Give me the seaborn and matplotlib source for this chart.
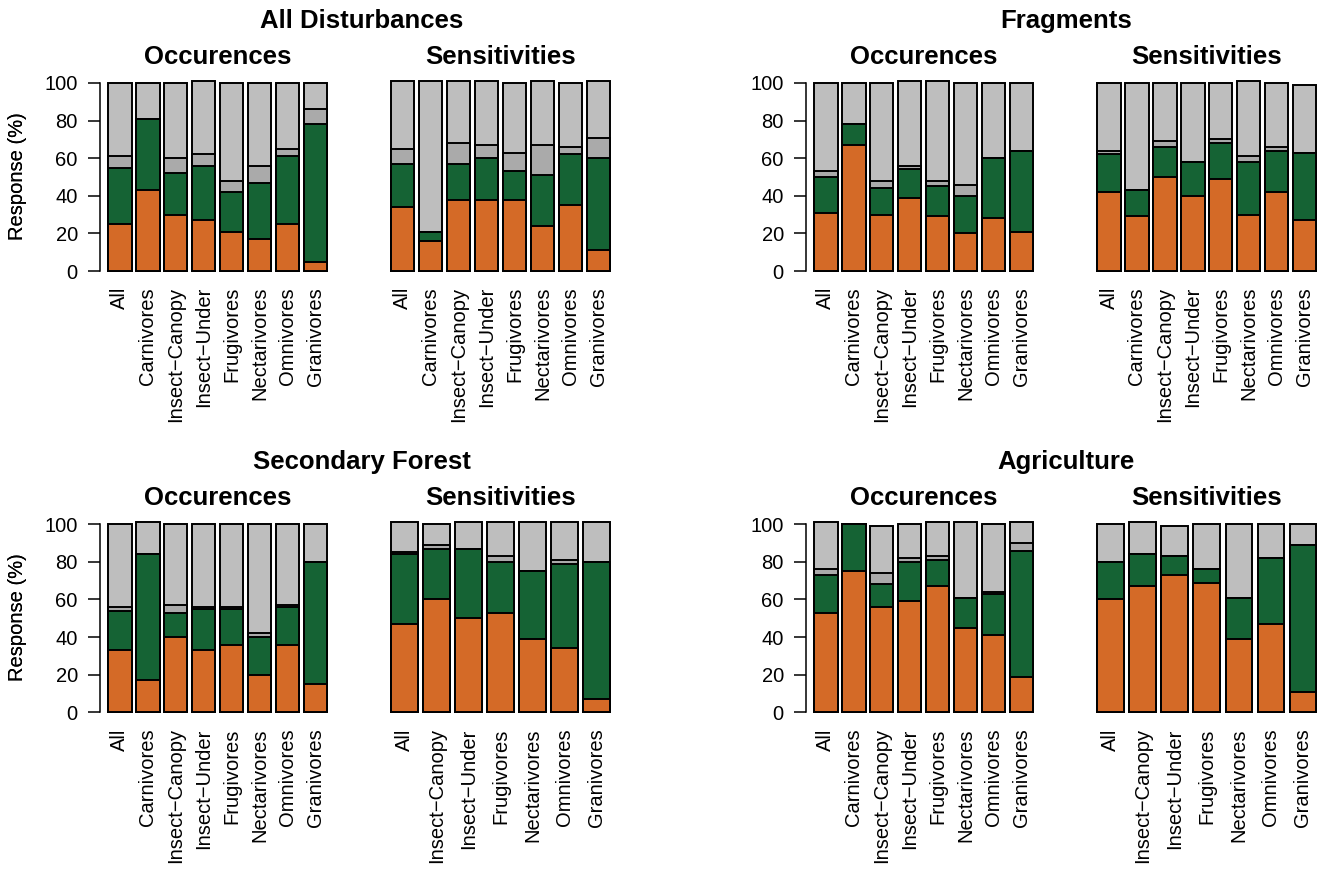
import pandas as pd
import matplotlib.pyplot as plt
import seaborn as sns

# bar categories (R draws the hyphen as a minus sign)
groups_all = ['All', 'Carnivores', 'Insect\u2212Canopy', 'Insect\u2212Under',
              'Frugivores', 'Nectarivores', 'Omnivores', 'Granivores']
groups_no_carn = ['All', 'Insect\u2212Canopy', 'Insect\u2212Under',
                  'Frugivores', 'Nectarivores', 'Omnivores', 'Granivores']

# segment heights (%) bottom -> top: orange, green, dark grey, light grey
dist_occ_orange = [25, 43, 30, 27, 21, 17, 25, 5]
dist_occ_green = [30, 38, 22, 29, 21, 30, 36, 73]
dist_occ_dgrey = [6, 0, 8, 6, 6, 9, 4, 8]
dist_occ_lgrey = [39, 19, 40, 39, 52, 44, 35, 14]

dist_sens_orange = [34, 16, 38, 38, 38, 24, 35, 11]
dist_sens_green = [23, 5, 19, 22, 15, 27, 27, 49]
dist_sens_dgrey = [8, 0, 11, 7, 10, 16, 4, 11]
dist_sens_lgrey = [36, 80, 33, 34, 37, 34, 34, 30]

frag_occ_orange = [31, 67, 30, 39, 29, 20, 28, 21]
frag_occ_green = [19, 11, 14, 15, 16, 20, 32, 43]
frag_occ_dgrey = [3, 0, 4, 2, 3, 6, 0, 0]
frag_occ_lgrey = [47, 22, 52, 45, 53, 54, 40, 36]

frag_sens_orange = [42, 29, 50, 40, 49, 30, 42, 27]
frag_sens_green = [20, 14, 16, 18, 19, 28, 22, 36]
frag_sens_dgrey = [2, 0, 3, 0, 2, 3, 2, 0]
frag_sens_lgrey = [36, 57, 31, 42, 30, 40, 34, 36]

sec_occ_orange = [33, 17, 40, 33, 36, 20, 36, 15]
sec_occ_green = [21, 67, 13, 22, 19, 20, 20, 65]
sec_occ_dgrey = [2, 0, 4, 1, 1, 2, 1, 0]
sec_occ_lgrey = [44, 17, 43, 44, 44, 58, 43, 20]

sec_sens_orange = [47, 60, 50, 53, 39, 34, 7]
sec_sens_green = [37, 27, 37, 27, 36, 45, 73]
sec_sens_dgrey = [1, 2, 0, 3, 0, 2, 0]
sec_sens_lgrey = [16, 11, 14, 18, 26, 20, 21]

agri_occ_orange = [53, 75, 56, 59, 67, 45, 41, 19]
agri_occ_green = [20, 25, 12, 21, 14, 16, 22, 67]
agri_occ_dgrey = [3, 0, 6, 2, 2, 0, 1, 4]
agri_occ_lgrey = [25, 0, 25, 18, 18, 40, 36, 11]

agri_sens_orange = [60, 67, 73, 69, 39, 47, 11]
agri_sens_green = [20, 17, 10, 7, 22, 35, 78]
agri_sens_dgrey = [0, 0, 0, 0, 0, 0, 0]
agri_sens_lgrey = [20, 17, 16, 24, 39, 18, 11]

colors = ['#D46A27', '#156334', '#AAAAAA', '#BEBEBE']

sns.set_theme(style="white")
plt.rcParams['font.family'] = ['Liberation Sans', 'DejaVu Sans']
plt.rcParams['text.color'] = 'black'

W, H = 1324, 871
fig = plt.figure(figsize=(W / 100, H / 100), dpi=100)

BAR_W = 1 / 1.2


def draw_stack(ax, cats, layers, occ):
    n = len(cats)
    tops = []
    cum = pd.Series([0] * n)
    for vals in layers:
        cum = cum + pd.Series(vals)
        tops.append(list(cum))
    df = pd.DataFrame({'group': cats})
    # tallest first, each lower cumulative bar drawn on top
    for top, col in reversed(list(zip(tops, colors))):
        df['top'] = top
        sns.barplot(data=df, x='group', y='top', order=cats, color=col,
                    saturation=1, width=BAR_W, edgecolor='black',
                    linewidth=1.4, errorbar=None, ax=ax)
    r = n - 1 + BAR_W
    ax.set_xlim(-BAR_W / 2 - 0.04 * r, n - 1 + BAR_W / 2 + 0.04 * r)
    ax.set_ylim(-4.04, 105.04)
    ax.set_xlabel('')
    ax.set_ylabel('')
    ax.set_xticks(range(n))
    ax.set_xticklabels(cats, rotation=90, va='top')
    ax.tick_params(axis='x', length=0, pad=6, labelsize=14.5, colors='black')
    for s in ['top', 'right', 'bottom']:
        ax.spines[s].set_visible(False)
    if occ:
        ax.spines['left'].set_bounds(0, 100)
        ax.spines['left'].set_color('black')
        ax.spines['left'].set_linewidth(1.1)
        ax.set_yticks([0, 20, 40, 60, 80, 100])
        ax.tick_params(axis='y', left=True, length=8.6, width=1.1, pad=7,
                       labelsize=14.5, colors='black')
    else:
        ax.spines['left'].set_visible(False)
        ax.set_yticks([])


panels = [
    ('All Disturbances', 0, 0,
     groups_all, [dist_occ_orange, dist_occ_green, dist_occ_dgrey, dist_occ_lgrey],
     groups_all, [dist_sens_orange, dist_sens_green, dist_sens_dgrey, dist_sens_lgrey]),
    ('Fragments', 0, 1,
     groups_all, [frag_occ_orange, frag_occ_green, frag_occ_dgrey, frag_occ_lgrey],
     groups_all, [frag_sens_orange, frag_sens_green, frag_sens_dgrey, frag_sens_lgrey]),
    ('Secondary Forest', 1, 0,
     groups_all, [sec_occ_orange, sec_occ_green, sec_occ_dgrey, sec_occ_lgrey],
     groups_no_carn, [sec_sens_orange, sec_sens_green, sec_sens_dgrey, sec_sens_lgrey]),
    ('Agriculture', 1, 1,
     groups_all, [agri_occ_orange, agri_occ_green, agri_occ_dgrey, agri_occ_lgrey],
     groups_no_carn, [agri_sens_orange, agri_sens_green, agri_sens_dgrey, agri_sens_lgrey]),
]

# pixel layout of the plot regions
row_top = [73.5, 514.8]
ax_h = 205.1
col_left = [[99.5, 382.2], [805.5, 1088.6]]
ax_w = 236.5
title_x = [362, 1066]
title_base = [28, 469]
sub_base = [64, 505]

for title, row, col, occ_cats, occ_layers, sens_cats, sens_layers in panels:
    for k, (cats, layers, sub) in enumerate([(occ_cats, occ_layers, 'Occurences'),
                                             (sens_cats, sens_layers, 'Sensitivities')]):
        left = col_left[col][k]
        ax = fig.add_axes([left / W, 1 - (row_top[row] + ax_h) / H, ax_w / W, ax_h / H])
        draw_stack(ax, cats, layers, occ=(k == 0))
        fig.text((left + ax_w / 2) / W, 1 - sub_base[row] / H, sub, ha='center',
                 va='baseline', fontsize=18.5, fontweight='bold', color='black')
        if k == 0:
            fig.text(18 / W, 1 - (row_top[row] + ax_h / 2) / H, 'Response (%)',
                     rotation=90, ha='center', va='center', fontsize=14.5,
                     color='black')
    fig.text(title_x[col] / W, 1 - title_base[row] / H, title, ha='center',
             va='baseline', fontsize=18.5, fontweight='bold', color='black')

fig.savefig('out.png', dpi=100)
